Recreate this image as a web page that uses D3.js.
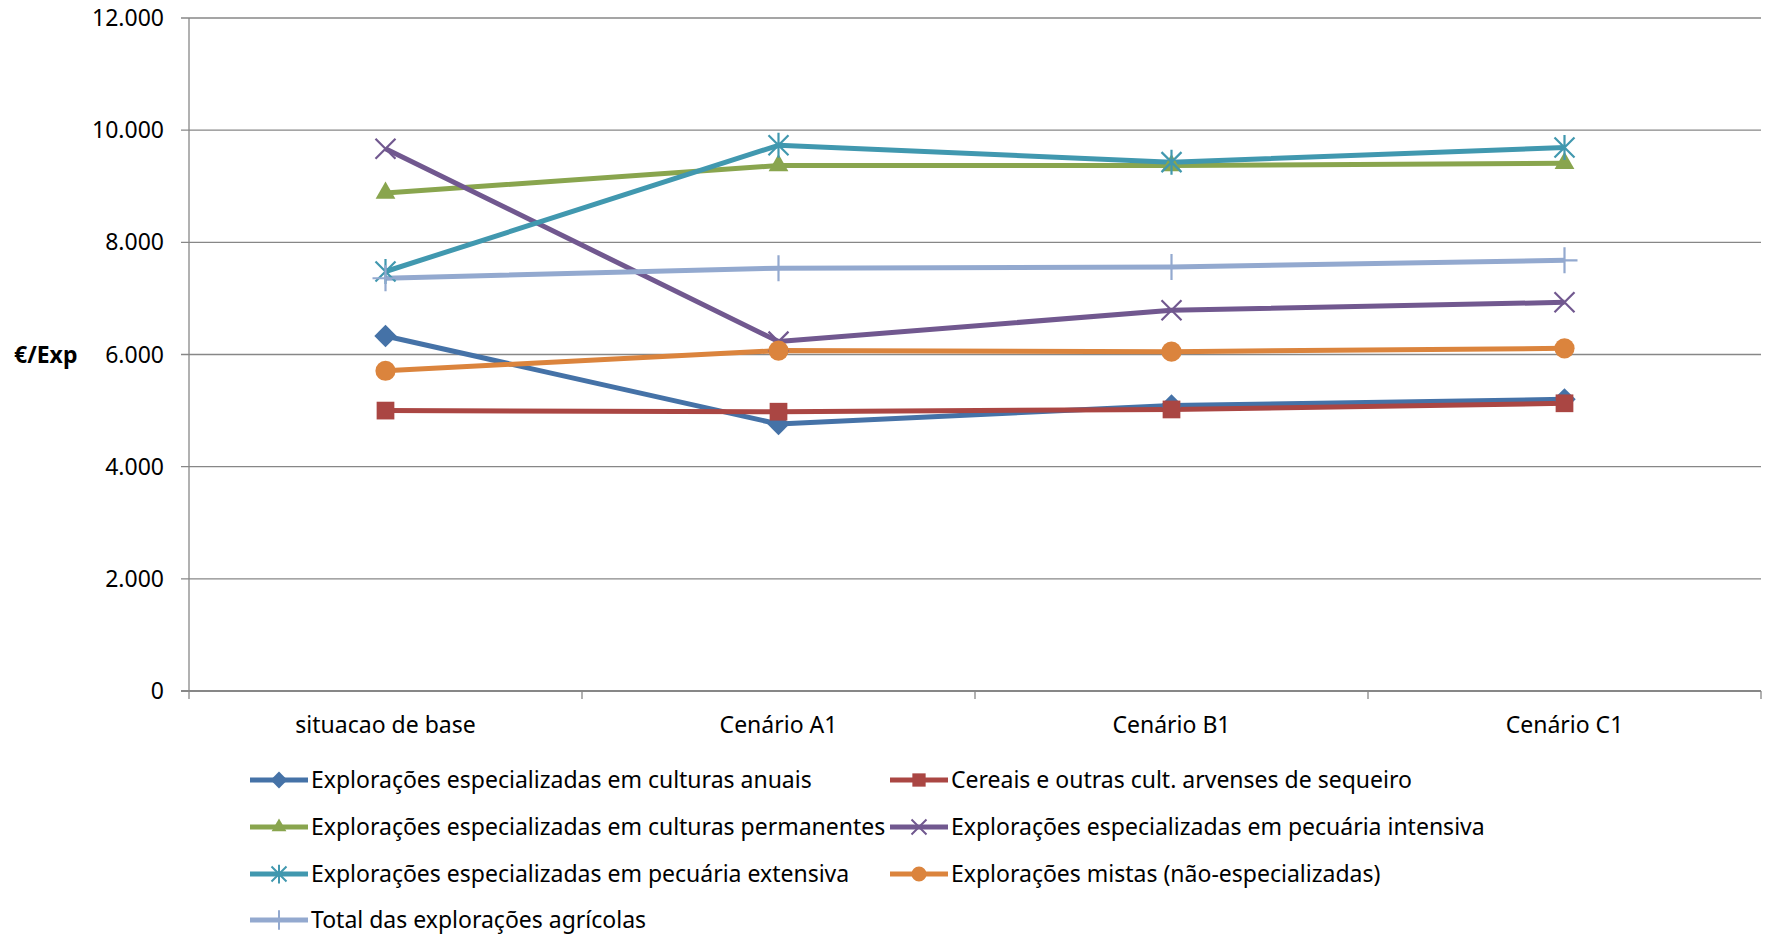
<!DOCTYPE html>
<html>
<head>
<meta charset="utf-8">
<script src="https://cdn.jsdelivr.net/npm/d3@7"></script>
<style>
  body { margin: 0; background: #fff; }
  text { font-family: "Noto Sans", "Open Sans", sans-serif; fill: #000; }
</style>
</head>
<body>
<div id="container"></div>
<script>
/* DATA */
const categories = ["situacao de base", "Cenário A1", "Cenário B1", "Cenário C1"]
const yTicks = [0, 2000, 4000, 6000, 8000, 10000, 12000]

const anuais = [6330, 4760, 5090, 5200]
const cereais = [5000, 4980, 5020, 5130]
const permanentes = [8880, 9370, 9370, 9410]
const intensiva = [9670, 6230, 6790, 6930]
const extensiva = [7480, 9730, 9430, 9690]
const mistas = [5710, 6070, 6050, 6110]
const total = [7360, 7540, 7560, 7680]

const series = [
  { name: "Explorações especializadas em culturas anuais", values: anuais, color: "#4572A7", marker: "diamond" },
  { name: "Cereais e outras cult. arvenses de sequeiro", values: cereais, color: "#AA4643", marker: "square" },
  { name: "Explorações especializadas em culturas permanentes", values: permanentes, color: "#89A54E", marker: "triangle" },
  { name: "Explorações especializadas em pecuária intensiva", values: intensiva, color: "#71588F", marker: "x" },
  { name: "Explorações especializadas em pecuária extensiva", values: extensiva, color: "#4198AF", marker: "star" },
  { name: "Explorações mistas (não-especializadas)", values: mistas, color: "#DB843D", marker: "circle" },
  { name: "Total das explorações agrícolas", values: total, color: "#93A9CF", marker: "plus" }
]

/* CONSTANTS */
const width = 1767
const height = 938
const margin = { top: 18, left: 189, right: 6, bottom: 247 }

const svg = d3.select('#container')
  .append('svg')
  .attr('width', width)
  .attr('height', height)

/* SCALES */
const xScale = d3.scaleBand()
  .domain(categories)
  .range([margin.left, width - margin.right])

const yScale = d3.scaleLinear()
  .domain([0, 12000])
  .range([height - margin.bottom, margin.top])

const fmt = d => d3.format(",")(d).replace(/,/g, ".")

// gridlines
svg.append('g')
  .selectAll('line')
  .data(yTicks)
  .join('line')
  .attr('x1', margin.left - 8)
  .attr('x2', width - margin.right)
  .attr('y1', d => yScale(d))
  .attr('y2', d => yScale(d))
  .attr('stroke', '#878787')
  .attr('stroke-width', d => d === 0 ? 2 : 1.3)

// y axis line
svg.append('line')
  .attr('x1', margin.left).attr('x2', margin.left)
  .attr('y1', margin.top).attr('y2', yScale(0) + 8)
  .attr('stroke', '#878787').attr('stroke-width', 1.3)

// x ticks at band edges
const edges = categories.map(c => xScale(c)).concat([xScale.range()[1]])
svg.append('g')
  .selectAll('line')
  .data(edges.slice(1))
  .join('line')
  .attr('x1', d => d).attr('x2', d => d)
  .attr('y1', yScale(0)).attr('y2', yScale(0) + 8)
  .attr('stroke', '#878787').attr('stroke-width', 1.3)

// y tick labels
svg.append('g')
  .selectAll('text')
  .data(yTicks)
  .join('text')
  .attr('x', 164)
  .attr('y', d => yScale(d))
  .attr('dy', '0.35em')
  .attr('text-anchor', 'end')
  .style('font-size', '23px')
  .text(fmt)

// y axis title
svg.append('text')
  .attr('x', 14)
  .attr('y', yScale(6000))
  .attr('dy', '0.35em')
  .style('font-size', '23px')
  .style('font-weight', 'bold')
  .text('€/Exp')

// x labels
svg.append('g')
  .selectAll('text')
  .data(categories)
  .join('text')
  .attr('x', d => xScale(d) + xScale.bandwidth() / 2)
  .attr('y', 725)
  .attr('dy', '0.35em')
  .attr('text-anchor', 'middle')
  .style('font-size', '23px')
  .text(d => d)

/* MARKERS */
function markerPath(type, s) {
  const h = s / 2
  if (type === 'x') return `M${-h},${-h}L${h},${h}M${-h},${h}L${h},${-h}`
  if (type === 'star') return `M${-h},${-h}L${h},${h}M${-h},${h}L${h},${-h}M0,${-h * 1.25}L0,${h * 1.25}`
  if (type === 'plus') return `M0,${-h * 1.3}L0,${h * 1.3}M${-h * 1.3},0L${h * 1.3},0`
  const map = { diamond: d3.symbolDiamond2, square: d3.symbolSquare2, triangle: d3.symbolTriangle2, circle: d3.symbolCircle }
  const sizes = { diamond: s * s * 0.8, square: s * s, triangle: s * s * 0.7, circle: s * s * 0.8 }
  return d3.symbol().type(map[type]).size(sizes[type])()
}
const filled = t => ['diamond', 'square', 'triangle', 'circle'].includes(t)

const line = d3.line()
  .x((d, i) => xScale(categories[i]) + xScale.bandwidth() / 2)
  .y(d => yScale(d))

const g = svg.append('g')
series.forEach(s => {
  g.append('path')
    .attr('d', line(s.values))
    .attr('fill', 'none')
    .attr('stroke', s.color)
    .attr('stroke-width', 5)
    .attr('stroke-linejoin', 'round')
})
series.forEach(s => {
  g.append('g')
    .selectAll('path')
    .data(s.values)
    .join('path')
    .attr('transform', (d, i) => `translate(${xScale(categories[i]) + xScale.bandwidth() / 2},${yScale(d)})`)
    .attr('d', markerPath(s.marker, 20))
    .attr('fill', filled(s.marker) ? s.color : 'none')
    .attr('stroke', s.color)
    .attr('stroke-width', filled(s.marker) ? 0 : 2.2)
})

/* LEGEND */
const legendCols = [250, 890]
const legendRows = [780, 827, 874, 920]
const legend = svg.append('g')
series.forEach((s, i) => {
  const x = legendCols[i % 2]
  const y = legendRows[Math.floor(i / 2)]
  const item = legend.append('g').attr('transform', `translate(${x},${y})`)
  item.append('line')
    .attr('x1', 0).attr('x2', 58)
    .attr('stroke', s.color).attr('stroke-width', 5)
  item.append('path')
    .attr('transform', 'translate(29,0)')
    .attr('d', markerPath(s.marker, 15))
    .attr('fill', filled(s.marker) ? s.color : 'none')
    .attr('stroke', s.color)
    .attr('stroke-width', filled(s.marker) ? 0 : 2)
  item.append('text')
    .attr('x', 61)
    .attr('dy', '0.35em')
    .style('font-size', '23px')
    .text(s.name)
})
</script>
</body>
</html>
